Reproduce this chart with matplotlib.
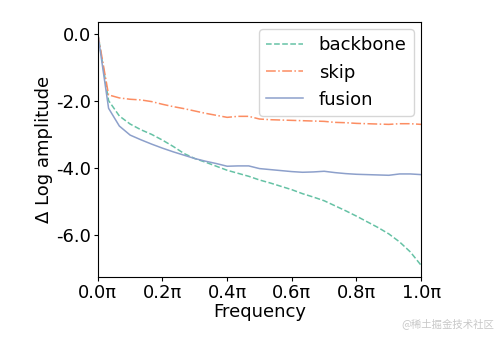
import matplotlib
matplotlib.use("Agg")
import matplotlib.pyplot as plt
import numpy as np
from matplotlib.ticker import FuncFormatter

# normalised frequency (fraction of pi), 31 radial bins
freq = np.linspace(0.0, 1.0, 31)

backbone = [0.0, -2.00, -2.46, -2.70, -2.87, -3.01, -3.18, -3.37, -3.58, -3.73,
            -3.84, -3.96, -4.08, -4.17, -4.26, -4.37, -4.46, -4.56, -4.66, -4.78,
            -4.88, -4.99, -5.14, -5.29, -5.45, -5.62, -5.79, -5.98, -6.22, -6.52,
            -6.92]
skip = [0.0, -1.83, -1.92, -1.96, -1.98, -2.03, -2.11, -2.18, -2.24, -2.31,
        -2.38, -2.44, -2.50, -2.47, -2.47, -2.55, -2.57, -2.58, -2.59, -2.60,
        -2.61, -2.62, -2.65, -2.66, -2.68, -2.69, -2.70, -2.71, -2.69, -2.69,
        -2.71]
fusion = [0.0, -2.23, -2.76, -3.03, -3.17, -3.30, -3.42, -3.53, -3.63, -3.73,
          -3.81, -3.88, -3.96, -3.95, -3.95, -4.03, -4.06, -4.09, -4.12, -4.14,
          -4.13, -4.11, -4.15, -4.18, -4.20, -4.21, -4.22, -4.23, -4.19, -4.19,
          -4.21]

colors = ["#66c2a5", "#fc8d62", "#8da0cb"]
fs = 13

fig = plt.figure(figsize=(4.99, 3.39), dpi=100)
ax = fig.add_axes([0.196, 0.183, 0.648, 0.752])

ax.plot(freq, backbone, color=colors[0], linestyle="--", lw=1.1, label="backbone")
ax.plot(freq, skip, color=colors[1], linestyle="-.", lw=1.1, label="skip")
ax.plot(freq, fusion, color=colors[2], linestyle="-", lw=1.1, label="fusion")

ax.set_xlim(0, 1)
ax.set_xticks(np.linspace(0, 1, 6))
ax.xaxis.set_major_formatter(FuncFormatter(lambda v, _: f"{v:.1f}π"))
ax.set_yticks([0.0, -2.0, -4.0, -6.0])
ax.yaxis.set_major_formatter(FuncFormatter(lambda v, _: f"{v:.1f}"))
ax.tick_params(labelsize=fs, length=3, pad=2)
ax.set_xlabel("Frequency", fontsize=fs, labelpad=1)
ax.set_ylabel("Δ Log amplitude", fontsize=fs, labelpad=2)
ax.legend(loc="upper right", fontsize=fs, borderaxespad=0.4, handletextpad=0.9)

fig.text(0.99, 0.03, "@稀土掘金技术社区", ha="right", va="bottom", fontsize=7.5,
         color="#c8c8c8", family=["Noto Sans CJK SC", "DejaVu Sans"])

fig.savefig("out.png", dpi=100)
